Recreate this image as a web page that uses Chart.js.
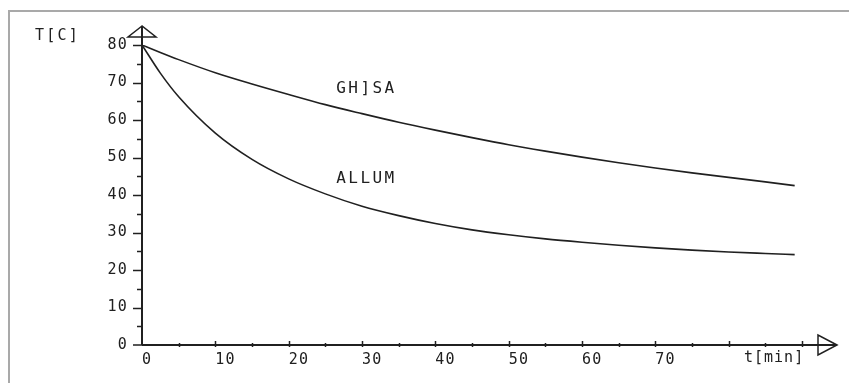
<!DOCTYPE html>
<html>
<head>
<meta charset="utf-8">
<script src="https://cdn.jsdelivr.net/npm/chart.js@4.4.1/dist/chart.umd.min.js"></script>
<style>
    html, body { margin: 0; padding: 0; background: #fff; }
    #wrap { position: relative; width: 849px; height: 383px; overflow: hidden; }
    #frame { position: absolute; left: 8px; top: 10px; right: -4px; bottom: -4px; border-top: 2px solid #a9a9a9; border-left: 2px solid #a9a9a9; }
    #cooling { position: absolute; left: 0; top: 0; }
</style>
</head>
<body>
<div id="wrap">
    <div id="frame"></div>
    <canvas id="cooling" width="849" height="383"></canvas>
</div>
<script>
// time in minutes, temperature in degrees C
const minutes = [0, 2.5, 5, 10, 15, 20, 25, 30, 35, 40, 45, 50, 55, 60, 65, 70, 75, 80, 85, 89];
const ghisa = [80, 78, 76.1, 72.6, 69.6, 66.8, 64.1, 61.7, 59.4, 57.3, 55.3, 53.4, 51.7, 50.1, 48.6, 47.2, 45.9, 44.7, 43.5, 42.5];
const allum = [80, 72.5, 66.2, 56.5, 49.5, 44.3, 40.3, 37, 34.5, 32.4, 30.7, 29.4, 28.3, 27.4, 26.6, 25.9, 25.3, 24.8, 24.4, 24.1];
const xLabels = [0, 10, 20, 30, 40, 50, 60, 70];
const yLabels = [0, 10, 20, 30, 40, 50, 60, 70, 80];
const seriesNames = ['GH]SA', 'ALLUM'];

const ink = '#202020';
const mono = 'DejaVu Sans Mono';

let toPoints = (ys) => minutes.map((t, i) => ({ x: t, y: ys[i] }));

// axis lines with arrow heads, tick marks, axis titles and curve names
const plotDecor = {
    id: 'plotDecor',
    beforeDraw: (chart) => {
        chart.ctx.letterSpacing = '1.2px';
    },
    afterDatasetsDraw: (chart) => {
        const ctx = chart.ctx;
        const x = chart.scales.x;
        const y = chart.scales.y;
        const x0 = x.getPixelForValue(0);
        const y0 = y.getPixelForValue(0);

        ctx.save();
        ctx.strokeStyle = ink;
        ctx.lineWidth = 2;
        ctx.beginPath();
        ctx.moveTo(x0, y0);
        ctx.lineTo(x0, 26);
        ctx.moveTo(x0, y0);
        ctx.lineTo(837, y0);
        ctx.stroke();

        // tick marks every 5 units
        ctx.lineWidth = 1.5;
        ctx.beginPath();
        for (let v = 5; v <= 80; v += 5) {
            const py = Math.round(y.getPixelForValue(v)) + 0.5;
            ctx.moveTo(x0 - (v % 10 === 0 ? 9 : 5), py);
            ctx.lineTo(x0, py);
        }
        ctx.moveTo(x0 - 9, y0);
        ctx.lineTo(x0, y0);
        for (let v = 5; v <= 90; v += 5) {
            const px = Math.round(x.getPixelForValue(v)) + 0.5;
            ctx.moveTo(px, y0 - (v % 10 === 0 ? 4 : 2));
            ctx.lineTo(px, y0 + 2);
        }
        ctx.stroke();

        // arrow heads
        ctx.lineWidth = 1.5;
        ctx.beginPath();
        ctx.moveTo(x0, 26);
        ctx.lineTo(x0 - 14, 37);
        ctx.lineTo(x0 + 14, 37);
        ctx.closePath();
        ctx.stroke();

        ctx.beginPath();
        ctx.moveTo(837, y0);
        ctx.lineTo(818, y0 - 10);
        ctx.lineTo(818, y0 + 10);
        ctx.closePath();
        ctx.stroke();

        // titles
        ctx.fillStyle = ink;
        ctx.textBaseline = 'middle';
        ctx.textAlign = 'left';
        ctx.letterSpacing = '2.2px';
        ctx.font = '15px "' + mono + '"';
        ctx.fillText('T[C]', 35, 36);
        ctx.letterSpacing = '1px';
        ctx.fillText('t[min]', 744, 358);

        ctx.letterSpacing = '2.4px';
        ctx.font = '16px "' + mono + '"';
        ctx.fillText(seriesNames[0], x.getPixelForValue(26.5), y.getPixelForValue(68.3));
        ctx.fillText(seriesNames[1], x.getPixelForValue(26.5), y.getPixelForValue(44.3));
        ctx.restore();
    }
};

new Chart(document.getElementById('cooling'), {
    type: 'line',
    data: {
        datasets: [{
            label: seriesNames[0],
            data: toPoints(ghisa),
            borderColor: ink,
            borderWidth: 1.6,
            pointRadius: 0,
            cubicInterpolationMode: 'monotone',
            fill: false
        }, {
            label: seriesNames[1],
            data: toPoints(allum),
            borderColor: ink,
            borderWidth: 1.6,
            pointRadius: 0,
            cubicInterpolationMode: 'monotone',
            fill: false
        }]
    },
    options: {
        responsive: false,
        animation: false,
        devicePixelRatio: 1,
        layout: {
            padding: { left: 0, right: 47, top: 45, bottom: 0 }
        },
        scales: {
            x: {
                type: 'linear',
                min: 0,
                max: 90,
                afterFit: (scale) => { scale.height = 38; },
                grid: { display: false, drawTicks: false },
                border: { display: false },
                ticks: {
                    stepSize: 10,
                    align: 'start',
                    padding: 6,
                    color: ink,
                    font: { family: mono, size: 15 },
                    callback: (v) => xLabels.includes(v) ? String(v) : ''
                }
            },
            y: {
                min: 0,
                max: 80,
                afterFit: (scale) => { scale.width = 142; },
                grid: { display: false, drawTicks: false },
                border: { display: false },
                ticks: {
                    stepSize: 10,
                    padding: 14,
                    color: ink,
                    font: { family: mono, size: 15 },
                    callback: (v) => yLabels.includes(v) ? String(v) : ''
                }
            }
        },
        plugins: {
            legend: { display: false },
            tooltip: { enabled: false }
        }
    },
    plugins: [plotDecor]
});
</script>
</body>
</html>
